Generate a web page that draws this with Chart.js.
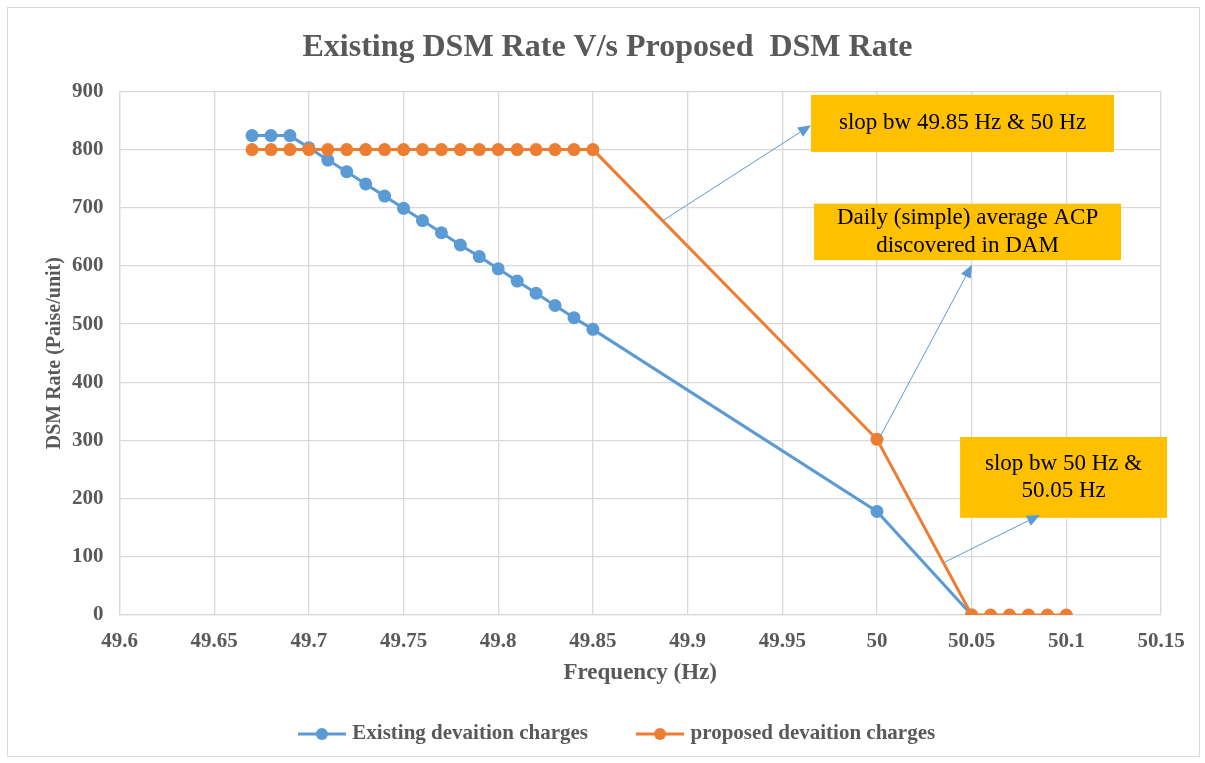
<!DOCTYPE html>
<html>
<head>
<meta charset="utf-8">
<title>Existing DSM Rate V/s Proposed DSM Rate</title>
<script src="https://cdn.jsdelivr.net/npm/chart.js@4.4.0/dist/chart.umd.min.js"></script>
<style>
  html, body { margin: 0; padding: 0; background: #fff; }
  #wrap { position: relative; width: 1205px; height: 763px; }
  #frame { position: absolute; left: 7px; top: 7px; width: 1191px; height: 748px; border: 1px solid #d9d9d9; pointer-events: none; }
  canvas { position: absolute; left: 0; top: 0; }
</style>
</head>
<body>
<div id="wrap">
  <div id="frame"></div>
  <canvas id="dsmChart" width="1205" height="763"></canvas>
</div>
<script>
// frequency (Hz) vs DSM rate (paise/unit)
const existingFreq = [49.67, 49.68, 49.69, 49.70, 49.71, 49.72, 49.73, 49.74, 49.75, 49.76,
                      49.77, 49.78, 49.79, 49.80, 49.81, 49.82, 49.83, 49.84, 49.85, 50.00, 50.05];
const existingRate = [824, 824, 824, 803, 782, 762, 741, 720, 699, 678,
                      657, 636, 616, 595, 574, 553, 532, 511, 491, 178, 0];

const proposedFreq = [49.67, 49.68, 49.69, 49.70, 49.71, 49.72, 49.73, 49.74, 49.75, 49.76,
                      49.77, 49.78, 49.79, 49.80, 49.81, 49.82, 49.83, 49.84, 49.85, 50.00,
                      50.05, 50.06, 50.07, 50.08, 50.09, 50.10];
const proposedRate = [800, 800, 800, 800, 800, 800, 800, 800, 800, 800,
                      800, 800, 800, 800, 800, 800, 800, 800, 800, 302,
                      0, 0, 0, 0, 0, 0];

const xTickValues = [49.6, 49.65, 49.7, 49.75, 49.8, 49.85, 49.9, 49.95, 50, 50.05, 50.1, 50.15];
const xTickLabels = ['49.6', '49.65', '49.7', '49.75', '49.8', '49.85', '49.9', '49.95', '50', '50.05', '50.1', '50.15'];

const seriesNames = ['Existing devaition charges', 'proposed devaition charges'];

// callout boxes and arrows, in data units (Hz, paise/unit)
const noteBoxes = [
    { x0: 49.9652, x1: 50.1252, y0: 894, y1: 796, lines: ['slop bw 49.85 Hz & 50 Hz'] },
    { x0: 49.9668, x1: 50.1289, y0: 707, y1: 610, lines: ['Daily (simple) average ACP', 'discovered in DAM'] },
    { x0: 50.0439, x1: 50.1532, y0: 306, y1: 167, lines: ['slop bw 50 Hz &', '50.05 Hz'] }
];
const noteArrows = [
    { from: [49.8865, 677], to: [49.9652, 842] },
    { from: [50.0016, 306], to: [50.0502, 602] },
    { from: [50.0359, 91], to: [50.0861, 172] }
];

const BLUE = '#5B9BD5';
const ORANGE = '#ED7D31';
const GREY = '#595959';
const SERIF = "'Liberation Serif', 'Times New Roman', serif";

function toPoints(xs, ys) {
    return xs.map((x, i) => ({ x: x, y: ys[i] }));
}

function legendMarker(color) {
    const c = document.createElement('canvas');
    c.width = 48; c.height = 14;
    const g = c.getContext('2d');
    g.strokeStyle = color;
    g.lineWidth = 3;
    g.beginPath(); g.moveTo(0, 7); g.lineTo(48, 7); g.stroke();
    g.fillStyle = color;
    g.beginPath(); g.arc(24, 7, 6, 0, Math.PI * 2); g.fill();
    return c;
}

const calloutPlugin = {
    id: 'callouts',
    afterDraw(chart) {
        const { ctx, scales: { x, y } } = chart;
        ctx.save();
        noteBoxes.forEach(b => {
            const l = x.getPixelForValue(b.x0), r = x.getPixelForValue(b.x1);
            const t = y.getPixelForValue(b.y0), btm = y.getPixelForValue(b.y1);
            ctx.fillStyle = '#FFC000';
            ctx.fillRect(l, t, r - l, btm - t);
            ctx.fillStyle = '#000';
            ctx.font = '23px ' + SERIF;
            ctx.textAlign = 'center';
            ctx.textBaseline = 'middle';
            const lh = 27.5;
            const cy = (t + btm) / 2 - (b.lines.length - 1) * lh / 2;
            b.lines.forEach((txt, i) => ctx.fillText(txt, (l + r) / 2, cy + i * lh));
        });
        ctx.strokeStyle = BLUE;
        ctx.fillStyle = BLUE;
        ctx.lineWidth = 1;
        noteArrows.forEach(a => {
            const x1 = x.getPixelForValue(a.from[0]), y1 = y.getPixelForValue(a.from[1]);
            const x2 = x.getPixelForValue(a.to[0]), y2 = y.getPixelForValue(a.to[1]);
            const ang = Math.atan2(y2 - y1, x2 - x1);
            const len = 13, half = 5.5;
            const bx = x2 - len * Math.cos(ang), by = y2 - len * Math.sin(ang);
            ctx.beginPath(); ctx.moveTo(x1, y1); ctx.lineTo(bx, by); ctx.stroke();
            ctx.beginPath();
            ctx.moveTo(x2, y2);
            ctx.lineTo(bx + half * Math.sin(ang), by - half * Math.cos(ang));
            ctx.lineTo(bx - half * Math.sin(ang), by + half * Math.cos(ang));
            ctx.closePath(); ctx.fill();
        });
        ctx.restore();
    }
};

// title and legend sit a little right of centre in the original
const blockNudge = {
    id: 'blockNudge',
    afterLayout(chart) {
        if (chart.legend) {
            chart.legend.left += 34;
            chart.legend.right += 34;
        }
        if (chart.titleBlock) {
            chart.titleBlock.left += 23;
            chart.titleBlock.right += 23;
        }
    }
};

const markers = [legendMarker(BLUE), legendMarker(ORANGE)];

new Chart(document.getElementById('dsmChart').getContext('2d'), {
    type: 'line',
    data: {
        datasets: [{
            label: seriesNames[0],
            data: toPoints(existingFreq, existingRate),
            borderColor: BLUE,
            backgroundColor: BLUE,
            borderWidth: 3,
            pointRadius: 6.5,
            pointBorderWidth: 0,
            pointBackgroundColor: BLUE,
            tension: 0,
            order: 2
        }, {
            label: seriesNames[1],
            data: toPoints(proposedFreq, proposedRate),
            borderColor: ORANGE,
            backgroundColor: ORANGE,
            borderWidth: 3,
            pointRadius: 6.5,
            pointBorderWidth: 0,
            pointBackgroundColor: ORANGE,
            tension: 0,
            order: 1
        }]
    },
    options: {
        responsive: false,
        animation: false,
        layout: { padding: { left: 8, right: 44, top: 0, bottom: 8.5 } },
        scales: {
            x: {
                type: 'linear',
                min: 49.6,
                max: 50.15,
                afterBuildTicks: s => { s.ticks = xTickValues.map(v => ({ value: v })); },
                afterFit: s => { s.height = 98.5; },
                ticks: {
                    callback: (v, i) => xTickLabels[i],
                    font: { family: SERIF, size: 21, weight: 'bold' },
                    color: GREY,
                    padding: 14,
                    maxRotation: 0,
                    autoSkip: false
                },
                grid: { color: '#d9d9d9', lineWidth: 1.3, drawTicks: false },
                border: { color: '#d9d9d9', width: 1.3 },
                title: {
                    display: true,
                    text: 'Frequency (Hz)',
                    font: { family: SERIF, size: 23, weight: 'bold' },
                    color: GREY,
                    padding: { top: 0, bottom: 27 }
                }
            },
            y: {
                min: 0,
                max: 900,
                afterFit: s => { s.width = 111.5; },
                ticks: {
                    stepSize: 100,
                    font: { family: SERIF, size: 21, weight: 'bold' },
                    color: GREY,
                    padding: 16
                },
                grid: { color: '#d9d9d9', lineWidth: 1.3, drawTicks: false },
                border: { color: '#d9d9d9', width: 1.3 },
                title: {
                    display: true,
                    text: 'DSM Rate (Paise/unit)',
                    font: { family: SERIF, size: 20, weight: 'bold' },
                    color: GREY,
                    padding: { top: 35, bottom: 0 }
                }
            }
        },
        plugins: {
            title: {
                display: true,
                text: 'Existing DSM Rate V/s Proposed  DSM Rate',
                font: { family: SERIF, size: 32, weight: 'bold' },
                color: GREY,
                padding: { top: 29, bottom: 24 }
            },
            legend: {
                position: 'bottom',
                labels: {
                    usePointStyle: true,
                    pointStyleWidth: 40,
                    padding: 10,
                    font: { family: SERIF, size: 21, weight: 'bold' },
                    color: GREY,
                    sort: (a, b) => a.datasetIndex - b.datasetIndex,
                    generateLabels: chart => {
                        const items = Chart.defaults.plugins.legend.labels.generateLabels(chart);
                        items.forEach(it => {
                            it.pointStyle = markers[it.datasetIndex];
                            if (it.datasetIndex === 0) it.text = it.text + ' '.repeat(8);
                        });
                        return items;
                    }
                }
            },
            tooltip: { enabled: false }
        }
    },
    plugins: [calloutPlugin, blockNudge]
});
</script>
</body>
</html>
